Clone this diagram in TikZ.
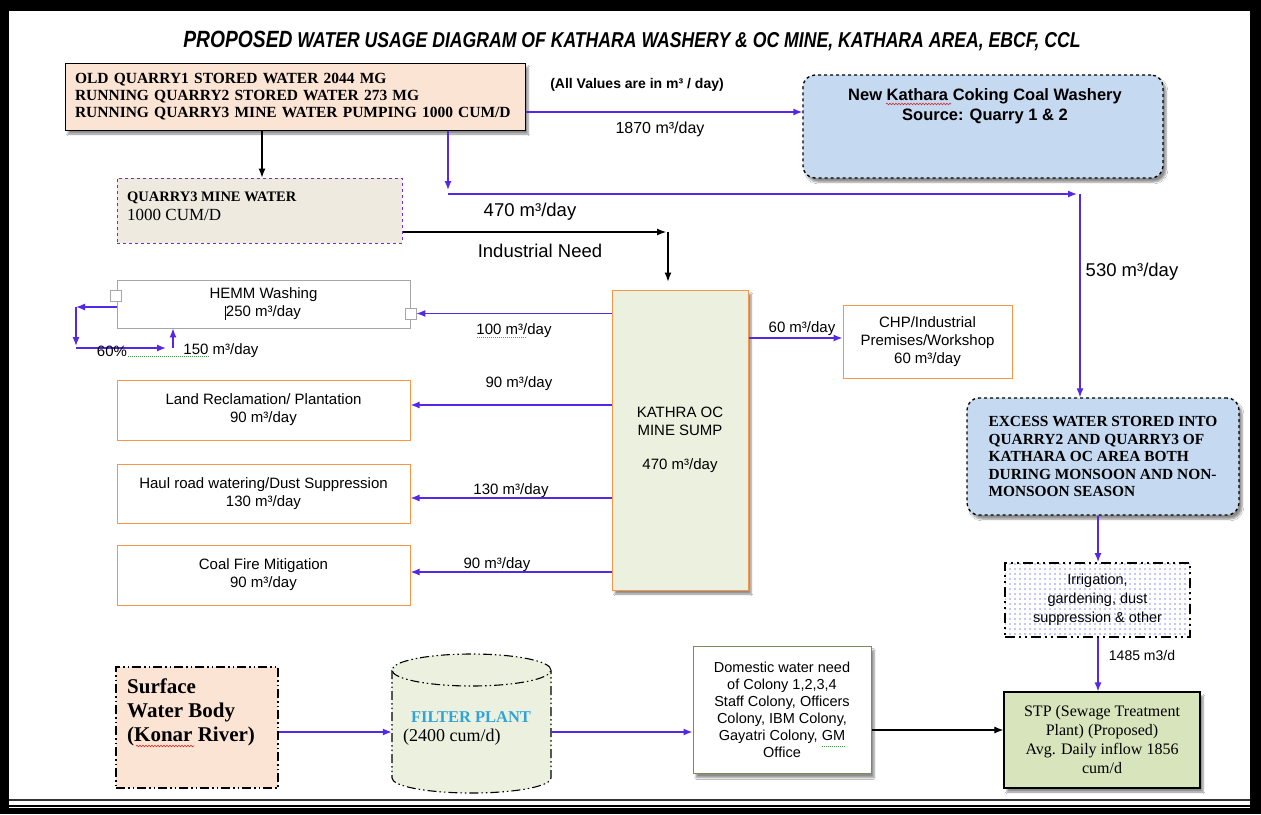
\documentclass[tikz,border=0pt]{standalone}
\usepackage{fontspec}
\setmainfont{Liberation Serif}
\setsansfont{Liberation Sans}
\newfontfamily\titlefont[FakeStretch=0.82]{Liberation Sans}
\usetikzlibrary{arrows.meta,shadows,shadows.blur,patterns.meta,decorations.pathmorphing}
\definecolor{flow}{RGB}{85,40,230}
\definecolor{peach}{RGB}{251,228,212}
\definecolor{lblue}{RGB}{197,217,241}
\definecolor{lgreen}{RGB}{235,241,222}
\definecolor{stpgreen}{RGB}{215,228,188}
\definecolor{orangeb}{RGB}{247,150,70}
\definecolor{beige}{RGB}{238,234,224}
\definecolor{dashpurple}{RGB}{112,48,200}
\definecolor{filterblue}{RGB}{49,163,214}
\definecolor{domgreen}{RGB}{120,140,90}
\definecolor{spellred}{RGB}{220,40,40}
\definecolor{spellgreen}{RGB}{60,170,60}
\begin{document}
\begin{tikzpicture}[x=1pt,y=-1pt,
  flowline/.style={draw=flow, line width=1.3pt, -{Latex[length=9pt,width=7pt]}},
  blkline/.style={draw=black, line width=1.1pt, -{Latex[length=9pt,width=7pt]}},
  lab/.style={font=\sffamily\fontsize{15}{18}\selectfont, inner sep=1pt},
  biglab/.style={font=\sffamily\fontsize{18.5}{22}\selectfont, inner sep=1pt},
  dshadow/.style={blur shadow={shadow xshift=3pt, shadow yshift=-4pt, shadow blur steps=6, shadow opacity=45}},
  obox/.style={draw=orangeb, line width=1pt, fill=white, minimum width=293pt, minimum height=60pt, align=center, font=\sffamily\fontsize{15}{18}\selectfont},
  cyldash/.style={dash pattern=on 9pt off 3pt on 1.5pt off 3pt on 1.5pt off 3pt},
  redwave/.style={draw=spellred, line width=0.6pt, decorate, decoration={snake, amplitude=0.8pt, segment length=3pt}},
  greenwave/.style={draw=spellgreen, line width=0.7pt, dash pattern=on 1pt off 1pt}
]
\useasboundingbox (0,0) rectangle (1261,814);
% page frame
\fill[black] (0,0) rectangle (1261,814);
\fill[white] (9,11) rectangle (1250,808);
\draw[black!80, line width=1.5pt] (9,800) -- (1250,800);
\draw[black, line width=2pt] (9,806) -- (1250,806);

% title
\node[font=\titlefont\bfseries\itshape\fontsize{21.5}{24}\selectfont] (title) at (632,41) {{\fontsize{23.5}{26}\selectfont PROPOSED} WATER USAGE DIAGRAM OF KATHARA WASHERY \& OC MINE, KATHARA AREA, EBCF, CCL};

% source box
\node[draw, line width=1pt, fill=peach, dshadow, minimum width=460pt, minimum height=67pt, text width=440pt, align=left, inner sep=0pt, font=\bfseries\fontsize{15.5}{17}\selectfont] (src) at (295,96.5) {OLD QUARRY1 STORED WATER 2044 MG\\RUNNING QUARRY2 STORED WATER 273 MG\\RUNNING QUARRY3 MINE WATER PUMPING 1000 CUM/D};

\node[font=\sffamily\bfseries\fontsize{14}{16}\selectfont, inner sep=1pt] (units) at (637,85) {(All Values are in m³ / day)};

% washery
\node[draw, dashed, line width=1.3pt, rounded corners=12pt, fill=lblue, dshadow, minimum width=360pt, minimum height=103pt] (wash) at (983,126.5) {};
\node[font=\sffamily\bfseries\fontsize{16.5}{20}\selectfont, align=center] (washt) at (985,106) {New Kathara Coking Coal Washery\\Source: Quarry 1 \& 2};
\coordinate (sw1) at (886,104);
\coordinate (sw2) at (951,104);
\draw[redwave] (sw1) -- (sw2);

\draw[flowline] (src.east |- 0,112) -- (wash.west |- 0,112);
\node[lab, font=\sffamily\fontsize{16}{18}\selectfont] (l1870) at (660,129) {1870 m³/day};

% quarry3
\node[draw=dashpurple, dashed, line width=1pt, fill=beige, minimum width=285pt, minimum height=65pt] (q3) at (259.5,210.5) {};
\node[anchor=west, align=left, inner sep=0pt, font=\fontsize{17}{19}\selectfont] (q3t) at (127,206) {{\bfseries\fontsize{14.5}{17}\selectfont QUARRY3 MINE WATER}\\1000 CUM/D};
\draw[blkline] (src.south -| 262,0) -- (q3.north -| 262,0);

% sump
\node[draw=orangeb, line width=1pt, fill=lgreen, dshadow, minimum width=136pt, minimum height=300pt, align=center, font=\sffamily\fontsize{15}{18}\selectfont] (sump) at (680,440) {KATHRA OC\\MINE SUMP\\[16pt]470 m³/day};

% excess
\node[draw, dashed, line width=1.3pt, rounded corners=12pt, fill=lblue, dshadow, minimum width=272pt, minimum height=117pt, align=left, font=\bfseries\fontsize{15.4}{17.5}\selectfont] (excess) at (1103,456.5) {EXCESS WATER STORED INTO\\QUARRY2 AND QUARRY3 OF\\KATHARA OC AREA BOTH\\DURING MONSOON AND NON-\\MONSOON SEASON};

% blue path from source
\coordinate (c1) at (448,190);
\coordinate (c2) at (448,194);
\coordinate (c3) at (1077,194);
\coordinate (c4) at (1080,194);
\draw[flowline] (src.south -| c1) -- (c1);
\draw[flowline] (c2) -- (c3);
\draw[flowline] (c4) -- (excess.north -| c4);

\node[biglab] (l470) at (530,212) {470 m³/day};
\node[biglab] (lind) at (540,251) {Industrial Need};
\node[biglab] (l530) at (1132,272) {530 m³/day};

% quarry3 to sump
\coordinate (c5) at (666,232);
\coordinate (c6) at (668,232);
\draw[blkline] (q3.east |- c5) -- (c5);
\draw[blkline, shorten >=8pt] (c6) -- (sump.north -| c6);

% HEMM
\node[draw=gray!70, line width=0.8pt, fill=white, minimum width=293pt, minimum height=48pt, align=center, font=\sffamily\fontsize{15}{18}\selectfont] (hemm) at (263.5,304) {HEMM Washing\\\makebox[0pt][r]{\rule[-3pt]{0.7pt}{14pt}}250 m³/day};
\node[draw=gray!70, line width=0.8pt, fill=white, minimum size=11pt, inner sep=0pt] (sqa) at (116,296) {};
\node[draw=gray!70, line width=0.8pt, fill=white, minimum size=11pt, inner sep=0pt] (sqb) at (410.5,313.5) {};
\draw[flowline] (sump.west |- sqb) -- (sqb.east);
\node[lab] (l100) at (514,331) {100 m³/day};
\coordinate (g1) at (477,337);
\coordinate (g2) at (526,337);
\draw[greenwave] (g1) -- (g2);

\coordinate (h1) at (76,307);
\coordinate (h2) at (76,346);
\coordinate (h3) at (76,348);
\coordinate (h4) at (166,348);
\coordinate (h5) at (173,348);
\draw[flowline] (hemm.west |- h1) -- (h1);
\draw[flowline] (h1) -- (h2);
\draw[flowline] (h3) -- (h4);
\draw[flowline] (h5) -- (hemm.south -| h5);
\node[lab] (l60p) at (112,351) {60\%};
\node[lab] (l150) at (221,351) {150 m³/day};
\coordinate (g3) at (128,356);
\coordinate (g4) at (210,356);
\draw[greenwave] (g3) -- (g4);

% other uses
\node[obox] (land) at (263.5,410) {Land Reclamation/ Plantation\\90 m³/day};
\draw[flowline] (sump.west |- 0,405) -- (land.east |- 0,405);
\node[lab] (l90a) at (519,384) {90 m³/day};

\node[obox, minimum height=59pt] (haul) at (263.5,493.5) {Haul road watering/Dust Suppression\\130 m³/day};
\draw[flowline] (sump.west |- 0,498) -- (haul.east |- 0,498);
\node[lab] (l130) at (511,491) {130 m³/day};

\node[obox] (coal) at (263.5,575) {Coal Fire Mitigation\\90 m³/day};
\draw[flowline] (sump.west |- 0,572) -- (coal.east |- 0,572);
\node[lab] (l90b) at (497,565) {90 m³/day};

% CHP
\node[obox, minimum width=169pt, minimum height=73pt] (chp) at (927.5,342) {CHP/Industrial\\Premises/Workshop\\60 m³/day};
\draw[flowline] (sump.east |- 0,338) -- (chp.west |- 0,338);
\node[lab] (l60) at (802,329) {60 m³/day};

% irrigation
\node[draw, line width=2pt, dash pattern=on 10pt off 4pt on 2pt off 4pt on 2pt off 4pt, pattern={Dots[radius=0.8pt,distance=5pt]}, pattern color=blue!45, minimum width=185pt, minimum height=74pt, align=center, font=\sffamily\fontsize{14.5}{19}\selectfont] (irr) at (1097.5,600) {Irrigation,\\gardening, dust\\suppression \& other};
\draw[flowline] (excess.south -| 1098,0) -- (irr.north -| 1098,0);

% STP
\node[draw, line width=1.2pt, fill=stpgreen, dshadow, minimum width=196pt, minimum height=96pt, align=center, font=\fontsize{16}{19}\selectfont] (stp) at (1102,740) {STP (Sewage Treatment\\Plant) (Proposed)\\Avg. Daily inflow 1856\\cum/d};
\draw[flowline] (irr.south -| 1098,0) -- (stp.north -| 1098,0);
\node[lab, font=\sffamily\fontsize{14}{16}\selectfont] (l1485) at (1142,655) {1485 m3/d};

% domestic
\node[draw=domgreen, line width=1pt, fill=white, dshadow, minimum width=178pt, minimum height=127pt, align=center, font=\sffamily\fontsize{14.5}{17}\selectfont] (dom) at (782,710) {Domestic water need\\of Colony 1,2,3,4\\Staff Colony, Officers\\Colony, IBM Colony,\\Gayatri Colony, GM\\Office};
\draw[blkline] (dom.east |- 0,730) -- (stp.west |- 0,730);
\coordinate (g5) at (822,746);
\coordinate (g6) at (845,746);
\draw[greenwave] (g5) -- (g6);

% surface water body
\node[draw, line width=1.1pt, cyldash, fill=peach, minimum width=162pt, minimum height=121pt] (surf) at (197,727.5) {};
\node[anchor=west, align=left, inner sep=0pt, font=\bfseries\fontsize{21}{24}\selectfont] (surft) at (127,712) {Surface\\Water Body\\(Konar River)};
\coordinate (sk1) at (136,746);
\coordinate (sk2) at (194,746);
\draw[redwave] (sk1) -- (sk2);

% filter plant cylinder
\node[minimum width=159pt, minimum height=140pt, inner sep=0pt] (filt) at (471.5,723) {};
\filldraw[fill=lgreen, draw=black, line width=1.1pt, cyldash] (392,670) -- (392,778) arc[start angle=180, end angle=360, x radius=79.5pt, y radius=15pt] -- (551,670);
\filldraw[fill=lgreen, draw=black, line width=1.1pt, cyldash] (471.5,670) ellipse [x radius=79.5pt, y radius=16pt];
\node[font=\bfseries\fontsize{16.5}{19}\selectfont, text=filterblue] (filtt) at (471,717) {FILTER PLANT};
\node[anchor=west, font=\fontsize{18}{20}\selectfont, inner sep=0pt] (filtn) at (403,737) {(2400 cum/d)};

\draw[flowline] (surf.east |- 0,732) -- (filt.west |- 0,732);
\draw[flowline] (filt.east |- 0,732) -- (dom.west |- 0,732);
\end{tikzpicture}
\end{document}
